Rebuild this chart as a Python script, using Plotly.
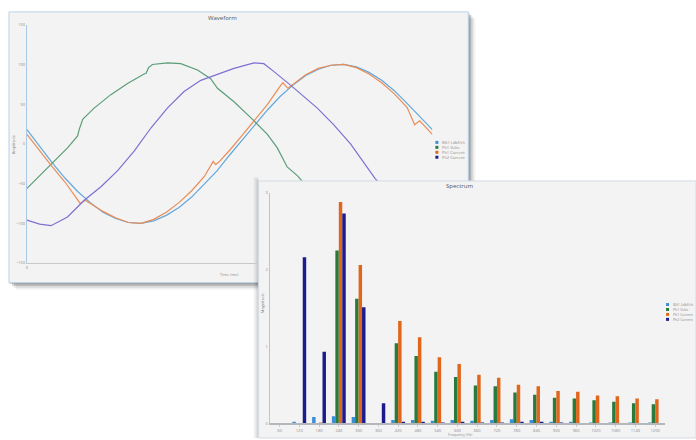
import plotly.graph_objects as go

W, H = 696, 440

def fx(px):
    return px / W

def fy(py):
    return 1 - py / H

# ---------------- Waveform data (time in ms, amplitude) ----------------
series_names = ["BG1 Ldbf/ch", "Ph1 Volts", "Ph1 Current", "Ph2 Current"]

lb_t = [0, 0.5, 1, 1.5, 2, 2.5, 3, 3.5, 4, 4.5, 5, 5.5, 6, 6.5, 7, 7.5, 8,
        8.5, 9, 9.5, 10, 10.5, 11, 11.5, 12, 12.5, 13, 13.5, 14, 14.5, 15, 15.5, 16]
lb_v = [18, -3, -24, -43, -60, -74, -86, -94, -99, -100, -97, -90, -80, -67, -51, -34, -14,
        5, 25, 43, 60, 74, 86, 94, 99, 100, 97, 90, 80, 67, 51, 35, 18]

gr_t = [0, 0.5, 0.95, 1.6, 2.0, 2.06, 2.2, 2.65, 3.31, 3.97, 4.62, 4.7, 4.8, 4.95, 5.54, 6.07,
        6.73, 7.25, 7.52, 8.17, 8.83, 9.49, 9.88, 10.14, 10.27, 10.67, 11, 11.5, 12, 12.5, 13,
        13.5, 14, 14.5, 15, 15.5, 16]
gr_v = [-56, -40, -25, -5, 10, 18, 31, 45, 62, 76, 88, 89, 96, 100, 102, 101,
        93, 82, 70, 53, 33, 12, -5, -21, -29, -40, -52, -68, -82, -92, -98,
        -100, -98, -92, -83, -72, -58]

or_t = [0, 0.5, 1, 1.5, 2.0, 2.1, 2.3, 2.6, 3, 3.5, 4, 4.5, 5, 5.5, 6, 6.5, 7, 7.35, 7.45, 7.6,
        8, 8.5, 9, 9.5, 10.0, 10.1, 10.3, 10.6, 11, 11.5, 12, 12.5, 13, 13.5, 14, 14.5, 15,
        15.3, 15.5, 16]
or_v = [12, -9, -29, -48, -70, -75, -71, -77, -85, -93, -99, -100, -95, -86, -74, -59, -41, -22, -26, -22,
        -8, 11, 31, 50, 73, 77, 70, 77, 87, 95, 99, 100, 96, 88, 77, 63, 46,
        24, 29, 12]

pu_t = [0, 0.5, 0.95, 1.6, 2.26, 2.92, 3.57, 4.23, 4.89, 5.54, 6.2, 6.86, 7.38, 8.17, 8.96,
        9.35, 9.75, 10.4, 11.46, 12.11, 12.77, 13.43, 13.75, 14.5, 15, 15.5, 16]
pu_v = [-96, -101, -103, -92, -71, -54, -34, -9, 20, 45, 66, 80, 86, 95, 102,
        101, 91, 74, 45, 24, 0, -29, -44, -68, -82, -92, -97]

wave_yticks = [-150, -100, -50, 0, 50, 100, 150]

# ---------------- Spectrum data ----------------
freq_labels = ["60", "120", "180", "240", "300", "360", "420", "480", "540", "600",
               "660", "720", "780", "840", "900", "960", "1020", "1080", "1140", "1200"]
spec_lb = [0.00, 0.02, 0.08, 0.09, 0.08, 0.00, 0.04, 0.04, 0.03, 0.04,
           0.03, 0.04, 0.05, 0.04, 0.02, 0.02, 0.01, 0.01, 0.01, 0.01]
spec_gr = [0, 0, 0, 2.25, 1.62, 0, 1.04, 0.875, 0.67, 0.60,
           0.49, 0.48, 0.40, 0.37, 0.33, 0.32, 0.30, 0.28, 0.26, 0.245]
spec_or = [0, 0, 0.01, 2.88, 2.06, 0, 1.33, 1.12, 0.86, 0.77,
           0.63, 0.59, 0.50, 0.48, 0.42, 0.41, 0.36, 0.35, 0.32, 0.31]
spec_nv = [0, 2.16, 0.93, 2.73, 1.51, 0.26, 0.02, 0.02, 0.01, 0.02,
           0.01, 0.01, 0.02, 0.02, 0.01, 0, 0, 0, 0, 0]
spec_yticks = [0, 1, 2, 3]

line_colors = ["#62a8dc", "#5a9e78", "#ea8c55", "#7d70d2"]
bar_colors = ["#3a8fd4", "#2a7a3c", "#e0661c", "#1c1c8c"]
swatch_colors = ["#3a8fd4", "#2a7a3c", "#e0661c", "#1c1c8c"]

PANEL = "#f3f3f3"
TXT = "#8a8a8a"

fig = go.Figure()

for t, v, c, n in zip([lb_t, gr_t, or_t, pu_t], [lb_v, gr_v, or_v, pu_v], line_colors, series_names):
    fig.add_trace(go.Scatter(x=t, y=v, mode="lines", name=n, line=dict(color=c, width=1.2),
                             xaxis="x", yaxis="y", showlegend=False, hoverinfo="skip"))

# empty trace for the covering spectrum panel
fig.add_trace(go.Scatter(x=[None], y=[None], xaxis="x2", yaxis="y2", showlegend=False, hoverinfo="skip"))

for vals, c, n in zip([spec_lb, spec_gr, spec_or, spec_nv], bar_colors, series_names):
    fig.add_trace(go.Bar(x=freq_labels, y=vals, name=n, marker=dict(color=c, line=dict(width=0)),
                         xaxis="x3", yaxis="y3", showlegend=False, hoverinfo="skip"))

shapes = []
# waveform panel shadow + panel
for k, op in [(7, 0.05), (5, 0.10), (3, 0.18), (1, 0.22)]:
    shapes.append(dict(type="rect", xref="paper", yref="paper", layer="below",
                       x0=fx(8 + k), x1=fx(468 + k), y0=fy(283 + k), y1=fy(9 + k),
                       fillcolor=f"rgba(0,0,0,{op})", line=dict(width=0)))
shapes.append(dict(type="rect", xref="paper", yref="paper", layer="below",
                   x0=fx(8), x1=fx(468), y0=fy(283), y1=fy(9),
                   fillcolor=PANEL, line=dict(color="#b9d3ea", width=1)))
# spectrum panel left shadow
for k, op in [(5, 0.05), (3, 0.08), (1, 0.10)]:
    shapes.append(dict(type="rect", xref="paper", yref="paper", layer="below",
                       x0=fx(258 - k), x1=fx(258), y0=0, y1=fy(180 - k + 1),
                       fillcolor=f"rgba(0,0,0,{op})", line=dict(width=0)))
# spectrum panel border (above)
shapes.append(dict(type="rect", xref="paper", yref="paper", layer="above",
                   x0=fx(258), x1=fx(696), y0=fy(440), y1=fy(180),
                   fillcolor="rgba(0,0,0,0)", line=dict(color="#d3dbe3", width=1)))

annotations = []
def txt(x, y, s, size=4, color=TXT, xanchor="center", angle=0):
    annotations.append(dict(x=fx(x), y=fy(y), xref="paper", yref="paper", text=s,
                            showarrow=False, xanchor=xanchor, yanchor="middle", textangle=angle,
                            font=dict(size=size, color=color, family="Open Sans")))

txt(222, 15, "Waveform", size=6, color="#555")
txt(229, 275, "Time (ms)")
txt(12, 143, "Amplitude", angle=-90)
txt(459, 185, "Spectrum", size=6, color="#555")
txt(460, 436, "Frequency (Hz)", size=3.5)
txt(262, 303, "Magnitude", angle=-90)

# legends (drawn as swatches + text)
for i, (n, c) in enumerate(zip(series_names, swatch_colors)):
    yy = 141 + i * 5
    shapes.append(dict(type="rect", xref="paper", yref="paper", layer="above",
                       x0=fx(435), x1=fx(438), y0=fy(yy + 1.5), y1=fy(yy - 1.5),
                       fillcolor=c, line=dict(width=0)))
    txt(440, yy, n, size=4, xanchor="left")
    yy2 = 305 + i * 5
    shapes.append(dict(type="rect", xref="paper", yref="paper", layer="above",
                       x0=fx(666), x1=fx(669), y0=fy(yy2 + 1.5), y1=fy(yy2 - 1.5),
                       fillcolor=c, line=dict(width=0)))
    txt(670.5, yy2, n, size=3.5, xanchor="left")

fig.update_layout(
    width=W, height=H, margin=dict(l=0, r=0, t=0, b=0),
    paper_bgcolor="white", plot_bgcolor=PANEL,
    barmode="group", bargap=0.3, bargroupgap=0,
    showlegend=False,
    shapes=shapes, annotations=annotations,
    xaxis=dict(domain=[fx(26), fx(432)], range=[0, 16], anchor="y",
               showgrid=False, zeroline=False, showline=True, linecolor="#c8c8c8", linewidth=1,
               tickvals=[0], ticktext=["0"], ticks="", tickfont=dict(size=4, color=TXT)),
    yaxis=dict(domain=[fy(263), fy(22)], range=[-150, 150], anchor="x",
               showgrid=False, zeroline=False, showline=True, linecolor="#a9c9e6", linewidth=1,
               tickvals=wave_yticks, ticks="", tickfont=dict(size=4, color=TXT)),
    xaxis2=dict(domain=[fx(258), 1], range=[0, 1], anchor="y2", visible=False),
    yaxis2=dict(domain=[0, fy(180)], range=[0, 1], anchor="x2", visible=False),
    xaxis3=dict(domain=[fx(269), fx(665)], anchor="y3", type="category",
                showgrid=False, zeroline=False, showline=True, linecolor="#b4b8bc", linewidth=2,
                ticks="outside", ticklen=2, tickcolor="#cccccc", tickfont=dict(size=4, color=TXT)),
    yaxis3=dict(domain=[fy(425), fy(192)], range=[0, 3], anchor="x3",
                showgrid=False, zeroline=False, showline=True, linecolor="#a9c9e6", linewidth=1,
                tickvals=spec_yticks, ticks="", tickfont=dict(size=4, color=TXT)),
)

fig.write_html("out.html",
               config={"displayModeBar": False, "staticPlot": True},
               post_script="document.body.style.margin='0';document.body.style.padding='0';")
